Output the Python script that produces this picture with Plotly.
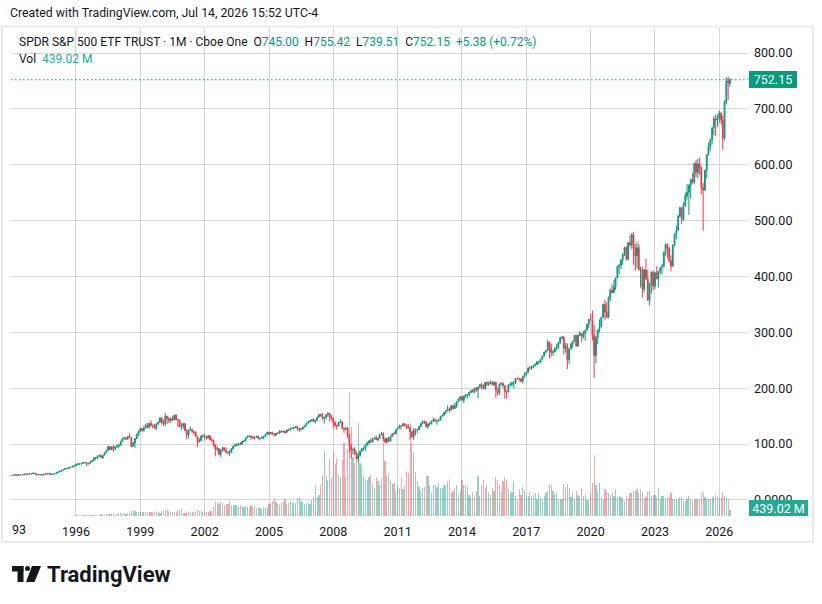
import plotly.graph_objects as go
import pandas as pd

# ---------------- data (SPY monthly) ----------------
closes = [
    43.9, 44.3, 45.2, 44.0, 45.0, 45.1, 44.8, 46.4, 45.9, 46.8, 46.2, 46.7,            # 1993
    48.2, 46.7, 44.6, 45.1, 45.7, 44.4, 45.8, 47.6, 46.3, 47.2, 45.4, 45.9,            # 1994
    47.0, 48.7, 50.1, 51.5, 53.3, 54.5, 56.2, 56.2, 58.4, 58.2, 60.5, 61.6,            # 1995
    63.6, 64.0, 64.6, 65.4, 66.9, 67.1, 64.0, 65.2, 68.7, 70.5, 75.7, 74.1,            # 1996
    78.6, 79.1, 75.7, 80.1, 84.8, 88.5, 95.4, 90.0, 94.7, 91.5, 95.5, 97.0,            # 1997
    98.0, 104.9, 110.2, 111.2, 109.1, 113.4, 112.1, 95.7, 101.7, 109.9, 116.4, 122.9,  # 1998
    128.0, 123.8, 128.6, 133.5, 130.2, 137.3, 132.9, 132.0, 128.3, 136.3, 138.9, 146.9,  # 1999
    139.5, 136.6, 149.9, 145.2, 142.1, 145.5, 143.1, 151.8, 143.6, 142.9, 131.5, 132.0,  # 2000
    136.6, 124.0, 116.0, 125.0, 125.6, 122.4, 121.1, 113.4, 104.1, 106.0, 114.0, 114.8,  # 2001
    113.0, 110.7, 114.7, 107.7, 106.7, 99.0, 91.2, 91.6, 81.5, 88.6, 93.6, 88.0,      # 2002
    85.6, 84.1, 84.8, 91.7, 96.4, 97.5, 99.0, 100.8, 99.6, 105.1, 105.8, 111.2,       # 2003
    113.1, 114.5, 112.6, 110.7, 112.1, 114.1, 110.2, 110.4, 111.5, 113.0, 117.4, 121.2,  # 2004
    118.1, 120.4, 118.1, 115.7, 119.2, 119.1, 123.4, 122.0, 122.9, 120.7, 125.0, 124.8,  # 2005
    128.0, 128.1, 129.5, 131.1, 127.0, 127.0, 127.7, 130.4, 133.6, 137.8, 140.1, 141.8,  # 2006
    143.8, 140.7, 142.1, 148.2, 153.1, 150.3, 145.5, 147.4, 152.7, 154.9, 148.1, 146.8,  # 2007
    137.9, 133.1, 132.3, 138.6, 140.0, 128.0, 126.7, 128.3, 116.6, 96.9, 89.6, 90.3,  # 2008
    82.6, 73.5, 79.8, 87.3, 91.9, 91.9, 98.7, 102.1, 105.7, 103.6, 109.6, 111.5,       # 2009
    107.4, 110.4, 117.0, 118.7, 109.0, 103.1, 110.2, 104.9, 114.1, 118.3, 118.1, 125.8,  # 2010
    128.6, 132.7, 132.6, 136.4, 134.5, 132.1, 129.2, 121.9, 113.1, 125.3, 124.7, 125.8,  # 2011
    131.2, 136.6, 140.9, 139.8, 131.0, 136.2, 137.9, 140.7, 144.1, 141.2, 141.6, 142.6,  # 2012
    149.8, 151.5, 156.9, 159.8, 163.1, 160.6, 168.6, 163.3, 168.2, 175.7, 180.6, 184.8,  # 2013
    178.3, 186.0, 187.2, 188.4, 192.4, 196.0, 193.1, 200.3, 197.2, 201.8, 206.8, 205.9,  # 2014
    199.5, 210.5, 206.8, 208.6, 210.7, 206.3, 210.4, 197.2, 192.0, 207.9, 208.0, 204.4,  # 2015
    194.0, 193.2, 206.0, 206.5, 209.7, 209.9, 217.4, 217.1, 216.8, 212.6, 219.9, 223.9,  # 2016
    227.9, 236.4, 236.3, 238.4, 241.2, 242.3, 247.0, 247.2, 251.9, 257.5, 264.8, 267.4,  # 2017
    282.4, 271.4, 264.1, 264.8, 270.5, 271.8, 281.6, 290.2, 291.4, 271.2, 276.0, 250.7,  # 2018
    270.4, 278.5, 283.4, 294.6, 275.2, 294.2, 298.0, 292.6, 297.7, 303.8, 314.1, 323.1,  # 2019
    322.6, 295.4, 258.5, 291.2, 304.3, 310.0, 327.1, 350.0, 336.3, 327.0, 362.2, 375.6,  # 2020
    371.4, 381.1, 397.3, 418.1, 420.4, 429.8, 439.5, 452.2, 430.8, 460.5, 456.7, 474.9,  # 2021
    449.9, 436.6, 451.6, 412.0, 412.9, 377.3, 412.0, 395.2, 357.2, 386.2, 407.7, 382.4,  # 2022
    406.5, 396.3, 409.4, 415.9, 417.9, 443.3, 457.8, 450.4, 427.5, 418.2, 456.4, 475.3,  # 2023
    482.9, 508.1, 523.1, 502.0, 527.4, 544.2, 550.8, 563.7, 573.8, 568.6, 602.6, 586.1,  # 2024
    601.8, 594.2, 559.4, 554.5, 589.4, 617.9, 632.1, 645.1, 666.2, 682.1, 680.0, 684.0,  # 2025
    692.0, 680.0, 648.0, 712.0, 750.0, 746.77, 752.15,                                  # 2026
]

highs = [
    44.0, 45.0, 45.6, 45.3, 45.5, 45.3, 45.2, 46.5, 46.5, 47.0, 46.9, 47.1,
    48.3, 48.2, 46.9, 45.3, 45.8, 45.9, 45.9, 47.7, 47.7, 47.5, 47.4, 46.5,
    47.3, 48.8, 50.4, 51.6, 53.6, 55.0, 56.4, 56.6, 58.6, 58.8, 60.7, 62.1,
    63.8, 66.5, 65.7, 65.9, 67.8, 67.7, 67.1, 66.6, 69.0, 70.9, 75.8, 76.5,
    79.4, 81.7, 81.6, 80.3, 85.0, 89.9, 95.6, 96.2, 96.1, 98.4, 96.0, 98.7,
    99.4, 105.0, 110.5, 112.2, 112.3, 114.0, 119.0, 112.5, 104.3, 110.7, 119.3, 124.4,
    128.9, 128.2, 131.8, 136.3, 137.7, 137.7, 142.1, 135.6, 136.4, 136.5, 140.7, 147.3,
    147.6, 143.3, 155.5, 150.4, 148.4, 147.5, 150.0, 152.5, 153.0, 144.7, 143.9, 137.5,
    138.3, 137.6, 126.4, 126.6, 131.6, 128.4, 123.5, 122.4, 113.7, 111.0, 116.3, 117.2,
    117.6, 113.2, 116.5, 114.8, 110.6, 107.9, 99.3, 96.2, 93.1, 90.5, 95.5, 94.8,
    93.2, 86.5, 89.6, 92.2, 96.7, 101.1, 100.9, 101.8, 103.8, 105.3, 106.3, 111.3,
    115.6, 115.7, 115.2, 115.0, 113.5, 114.8, 114.7, 111.2, 113.9, 114.5, 118.4, 121.8,
    121.6, 121.3, 122.3, 119.2, 120.0, 121.9, 124.4, 124.3, 124.3, 123.1, 126.3, 127.8,
    129.4, 129.6, 131.1, 132.7, 132.6, 128.4, 128.1, 130.7, 133.8, 138.0, 140.9, 142.5,
    144.9, 146.6, 143.5, 149.4, 153.5, 154.4, 155.5, 149.1, 153.5, 157.5, 155.0, 151.9,
    147.3, 141.2, 135.3, 140.0, 144.3, 140.9, 129.3, 131.0, 130.7, 117.0, 100.5, 92.5,
    94.4, 86.5, 83.2, 88.0, 93.0, 95.6, 98.9, 104.0, 107.0, 110.0, 111.0, 112.8,
    115.1, 111.6, 117.1, 122.1, 121.2, 111.0, 111.5, 113.0, 114.8, 119.2, 122.1, 126.3,
    130.0, 134.7, 133.6, 136.8, 137.2, 134.8, 135.7, 129.3, 123.0, 128.8, 127.8, 127.5,
    132.8, 137.5, 142.2, 142.1, 141.0, 136.3, 139.2, 142.0, 147.0, 146.1, 142.5, 145.6,
    150.2, 152.9, 157.2, 159.9, 169.1, 165.4, 170.0, 170.6, 173.6, 176.3, 181.8, 185.0,
    185.2, 186.9, 189.5, 188.9, 193.0, 196.9, 198.3, 200.6, 201.9, 202.0, 207.4, 209.5,
    207.0, 211.2, 211.9, 211.9, 213.8, 212.3, 212.6, 211.6, 200.8, 208.0, 211.0, 211.0,
    205.0, 196.0, 206.5, 210.9, 211.0, 212.5, 217.5, 219.6, 218.8, 217.5, 221.6, 228.3,
    229.7, 237.0, 240.3, 239.5, 241.5, 245.0, 248.0, 249.3, 252.0, 258.1, 265.2, 268.6,
    286.6, 283.1, 279.9, 268.6, 274.3, 279.5, 283.1, 291.7, 293.9, 292.8, 281.5, 280.4,
    271.0, 281.3, 285.2, 294.8, 295.8, 296.3, 302.2, 298.7, 302.5, 304.0, 315.5, 323.8,
    332.9, 339.1, 313.8, 293.7, 305.3, 323.4, 327.2, 351.3, 358.8, 354.0, 364.2, 378.5,
    385.9, 394.2, 398.0, 418.4, 422.0, 430.6, 441.8, 453.1, 454.0, 461.0, 473.5, 477.6,
    479.98, 458.1, 462.1, 457.8, 418.0, 417.4, 413.0, 431.7, 411.7, 389.5, 409.0, 410.5,
    408.2, 418.3, 409.7, 415.9, 422.6, 444.3, 459.4, 458.0, 453.1, 438.1, 456.9, 477.6,
    491.0, 510.1, 524.6, 523.2, 533.1, 550.3, 565.2, 565.0, 574.7, 586.1, 603.4, 609.1,
    610.8, 613.2, 597.3, 567.2, 592.0, 619.2, 639.8, 646.5, 666.7, 687.4, 690.0, 690.0,
    697.0, 695.0, 688.0, 716.0, 757.0, 757.0, 755.42,
]

lows = [
    43.7, 43.5, 44.1, 43.6, 43.8, 44.4, 44.2, 44.7, 45.4, 45.7, 45.8, 45.9,
    46.6, 46.4, 43.8, 43.6, 44.2, 44.0, 44.2, 45.7, 45.9, 45.7, 44.8, 44.9,
    45.7, 46.9, 48.5, 49.9, 51.2, 53.1, 54.4, 55.5, 56.1, 57.2, 58.1, 59.9,
    59.8, 62.9, 62.5, 62.9, 64.4, 65.6, 60.6, 63.9, 64.5, 67.8, 70.4, 72.0,
    73.6, 77.0, 75.4, 73.4, 79.8, 83.0, 88.0, 89.9, 89.5, 85.5, 88.8, 92.9,
    92.0, 98.0, 104.2, 107.5, 107.5, 107.4, 111.3, 94.0, 94.6, 92.3, 108.9, 114.4,
    121.5, 122.3, 122.6, 127.6, 127.8, 128.0, 131.9, 128.1, 127.0, 124.7, 133.9, 138.6,
    135.0, 132.8, 131.8, 135.6, 137.6, 137.6, 140.9, 143.1, 143.0, 130.5, 130.1, 125.5,
    127.4, 123.0, 108.6, 110.4, 123.5, 119.8, 117.2, 112.9, 94.4, 102.7, 105.5, 111.5,
    108.6, 107.7, 110.1, 106.9, 103.8, 95.1, 77.7, 87.0, 81.0, 76.8, 86.7, 87.0,
    84.4, 81.4, 79.0, 84.2, 90.1, 95.1, 96.0, 96.0, 99.0, 99.5, 103.5, 105.3,
    110.5, 112.2, 107.2, 110.1, 107.6, 111.5, 108.3, 106.3, 109.8, 108.5, 112.9, 116.7,
    116.2, 117.5, 117.0, 113.7, 114.6, 119.0, 118.9, 120.1, 119.8, 117.9, 120.6, 122.9,
    124.4, 126.7, 127.1, 128.5, 124.4, 121.8, 123.0, 125.4, 129.8, 132.6, 136.3, 139.0,
    140.0, 139.0, 136.8, 141.8, 147.9, 148.8, 143.6, 137.0, 144.1, 149.0, 139.9, 142.7,
    128.2, 131.0, 125.5, 131.0, 137.6, 127.6, 120.0, 124.4, 110.5, 84.0, 74.3, 81.2,
    80.0, 73.1, 66.8, 77.3, 86.0, 88.3, 87.8, 96.7, 98.9, 102.0, 103.0, 109.0,
    107.2, 104.6, 109.7, 116.0, 104.4, 103.1, 101.1, 104.5, 104.3, 113.2, 116.3, 118.0,
    125.0, 128.6, 125.3, 131.7, 131.1, 126.6, 127.6, 107.5, 111.0, 107.1, 115.2, 119.2,
    125.6, 131.0, 135.6, 136.0, 129.5, 127.2, 132.4, 135.0, 140.0, 140.5, 134.3, 140.8,
    142.5, 148.8, 150.8, 153.6, 158.7, 156.6, 160.4, 162.9, 163.0, 164.5, 174.8, 177.3,
    177.4, 173.6, 182.8, 181.3, 185.4, 191.0, 192.3, 190.3, 193.5, 181.9, 200.1, 197.9,
    198.6, 196.8, 203.4, 203.9, 206.9, 204.9, 203.5, 182.4, 186.9, 187.6, 204.6, 199.8,
    181.0, 181.1, 192.5, 202.3, 203.3, 199.5, 207.4, 215.7, 212.0, 210.4, 208.4, 219.0,
    222.7, 227.5, 232.5, 232.5, 235.4, 238.6, 241.6, 242.8, 244.9, 251.5, 256.2, 262.0,
    267.0, 252.9, 256.4, 257.8, 264.0, 268.0, 270.6, 279.2, 287.0, 259.9, 263.5, 234.3,
    244.0, 269.5, 272.4, 283.0, 275.0, 274.6, 293.5, 281.7, 288.6, 284.8, 303.5, 307.1,
    320.4, 285.5, 218.3, 243.9, 279.0, 299.5, 309.0, 325.7, 322.6, 326.1, 325.1, 356.2,
    369.4, 370.2, 376.0, 396.7, 404.0, 413.0, 421.0, 436.6, 428.8, 428.8, 453.6, 448.9,
    420.8, 410.6, 415.1, 411.2, 380.5, 362.2, 371.0, 395.0, 357.0, 348.1, 368.8, 374.8,
    377.8, 394.3, 380.7, 403.8, 403.7, 416.8, 437.1, 433.0, 425.0, 409.2, 418.0, 454.3,
    466.4, 482.0, 504.9, 493.9, 499.6, 524.7, 537.5, 510.3, 539.4, 566.1, 565.0, 578.0,
    575.4, 582.4, 546.9, 481.8, 553.0, 575.6, 617.0, 624.5, 636.5, 652.8, 650.9, 668.0,
    675.0, 672.0, 627.0, 643.0, 708.0, 716.0, 739.51,
]

volumes_m = [  # millions of shares
    1, 2, 3, 3, 3, 4, 3, 3, 4, 5, 4, 5,
    6, 7, 10, 8, 7, 8, 6, 7, 9, 10, 12, 14,
    13, 14, 18, 16, 19, 22, 20, 18, 22, 25, 23, 28,
    40, 45, 48, 42, 40, 45, 60, 50, 55, 58, 62, 80,
    90, 95, 120, 130, 110, 115, 130, 150, 140, 210, 170, 160,
    190, 200, 180, 210, 180, 220, 240, 400, 420, 410, 330, 300,
    320, 300, 330, 320, 310, 300, 280, 270, 300, 340, 290, 260,
    350, 380, 450, 420, 400, 330, 320, 300, 320, 450, 420, 500,
    250, 260, 350, 330, 280, 270, 280, 300, 420, 400, 350, 330,
    340, 330, 330, 360, 380, 700, 1150, 1000, 900, 1050, 950, 800,
    900, 900, 1100, 850, 850, 850, 800, 650, 800, 750, 700, 650,
    650, 600, 800, 700, 750, 600, 650, 600, 550, 700, 650, 600,
    900, 1000, 1150, 1250, 1050, 900, 850, 950, 1050, 1250, 900, 950,
    1100, 1000, 1050, 950, 1350, 1400, 1100, 1050, 900, 1000, 950, 900,
    1200, 1400, 2300, 1400, 1600, 2300, 3100, 4900, 3000, 2700, 4300, 2900,
    4700, 3900, 4300, 3100, 2900, 4200, 5500, 3000, 5000, 9200, 6700, 4400,
    4000, 4300, 7000, 4000, 3800, 3000, 2800, 2700, 2900, 3100, 2500, 2100,
    2900, 2600, 2300, 2800, 5500, 4100, 3000, 3200, 2600, 2400, 2500, 1900,
    2300, 2100, 2900, 2000, 2300, 3400, 3200, 7000, 5400, 4800, 3300, 2600,
    2200, 1900, 2100, 2200, 3100, 3000, 2300, 1700, 2300, 2300, 2200, 2400,
    2100, 2100, 2300, 2300, 2600, 2800, 1700, 1900, 2100, 2300, 1600, 1900,
    2700, 2300, 2300, 2200, 1600, 1400, 1800, 1600, 1900, 3000, 1500, 2300,
    2700, 2100, 2300, 1800, 1600, 2100, 1900, 2900, 2700, 2300, 1800, 2600,
    2900, 2700, 2000, 1800, 1800, 2600, 1500, 1300, 2000, 1600, 2200, 1900,
    1600, 1500, 1800, 1500, 1600, 1700, 1300, 1700, 1400, 1200, 1500, 1700,
    1900, 2400, 2300, 1900, 1600, 1800, 1300, 1300, 1300, 2400, 2200, 2400,
    2100, 1400, 1800, 1300, 1900, 1600, 1500, 2100, 1500, 1600, 1200, 1200,
    1700, 2500, 4600, 2300, 1800, 2500, 1400, 1200, 2000, 1800, 1700, 1600,
    1800, 1500, 2000, 1400, 1500, 1400, 1300, 1100, 1500, 1300, 1700, 1700,
    1900, 1900, 2000, 1700, 2000, 1800, 1300, 1400, 1800, 1900, 1500, 1600,
    1600, 1400, 2000, 1300, 1500, 1500, 1300, 1400, 1400, 1700, 1300, 1300,
    1300, 1200, 1400, 1400, 1100, 1100, 1300, 1500, 1300, 1100, 1200, 1300,
    1300, 1300, 1700, 1800, 1400, 1300, 1300, 1300, 1400, 1500, 1600, 1500,
    1400, 1400, 1800, 1500, 1400, 1300, 439.02,
]

first_open = 43.97      # Jan 1993 open
last_open = 745.00      # current (Jul 2026) open, from the legend
year_ticks = list(range(1993, 2027, 3))
price_ticks = [0, 100, 200, 300, 400, 500, 600, 700, 800]

# ---------------- derived series ----------------
dates = pd.date_range("1993-01-01", periods=len(closes), freq="MS")
opens = [first_open] + closes[:-1]
opens[-1] = last_open

UP = "#089981"
DOWN = "#F23645"
VOL_UP = "rgba(8,153,129,0.45)"
VOL_DOWN = "rgba(242,54,69,0.45)"
TXT = "#131722"
GRID = "#d6d6d6"
FONT = "Roboto, Arial, sans-serif"

vol_colors = [VOL_UP if c >= o else VOL_DOWN for o, c in zip(opens, closes)]

# ---------------- geometry helpers (pixels -> paper) ----------------
W, H = 822, 604
L, R, T, B = 11, 748, 28, 516


def xp(x):
    return (x - L) / (R - L)


def yp(y):
    return 1 - (y - T) / (B - T)


fig = go.Figure()

fig.add_trace(go.Bar(
    x=dates, y=volumes_m, marker=dict(color=vol_colors, line=dict(width=0)),
    width=20 * 86400000, yaxis="y", hoverinfo="skip", showlegend=False,
))

fig.add_trace(go.Candlestick(
    x=dates, open=opens, high=highs, low=lows, close=closes,
    increasing=dict(line=dict(color=UP, width=1), fillcolor=UP),
    decreasing=dict(line=dict(color=DOWN, width=1), fillcolor=DOWN),
    whiskerwidth=0, yaxis="y2", hoverinfo="skip", showlegend=False,
))

vol_max = max(volumes_m)
fig.update_layout(
    width=W, height=H,
    margin=dict(l=L, r=W - R, t=T, b=H - B),
    paper_bgcolor="white", plot_bgcolor="white",
    font=dict(family=FONT, size=12, color=TXT),
    showlegend=False,
    bargap=0,
    xaxis=dict(
        type="date",
        range=["1992-12-20", "2027-05-05"],
        tickvals=[f"{y}-01-01" for y in year_ticks],
        ticktext=["" if y == 1993 else str(y) for y in year_ticks],
        showgrid=True, gridcolor=GRID, gridwidth=1,
        ticks="", ticklabelstandoff=6,
        tickfont=dict(size=12.5, color=TXT),
        zeroline=False, showline=False,
        rangeslider=dict(visible=False),
    ),
    yaxis=dict(
        range=[0, vol_max * (B - T) / 122.7],
        visible=False, showgrid=False, zeroline=False,
    ),
    yaxis2=dict(
        overlaying="y", side="right",
        range=[-28.8, 844.8],
        tickvals=price_ticks,
        ticktext=["0.0000" if v == 0 else f"{v:.2f}" for v in price_ticks],
        showgrid=True, gridcolor=GRID, gridwidth=1,
        ticks="", ticklabelstandoff=5,
        tickfont=dict(size=12.5, color=TXT),
        zeroline=False, showline=False,
    ),
)

last_close = closes[-1]
prev_close = closes[-2]
chg = last_close - prev_close
chg_pct = chg / prev_close * 100
last_vol = volumes_m[-1]


def teal(s):
    return f"<span style='color:{UP}'>{s}</span>"


line1 = ("SPDR S&P 500 ETF TRUST · 1M · Cboe One&nbsp;&nbsp;"
         f"O{teal(f'{last_open:.2f}')}&nbsp;&nbsp;"
         f"H{teal(f'{highs[-1]:.2f}')}&nbsp;&nbsp;"
         f"L{teal(f'{lows[-1]:.2f}')}&nbsp;&nbsp;"
         f"C{teal(f'{last_close:.2f}')}&nbsp;&nbsp;"
         + teal(f"{chg:+.2f} ({chg_pct:+.2f}%)"))
line2 = "Vol&nbsp;&nbsp;" + f"<span style='color:#22ab94'>{last_vol:.2f} M</span>"

ann = [
    dict(text="Created with TradingView.com, Jul 14, 2026 15:52 UTC-4",
         x=xp(8), y=yp(13), xanchor="left", yanchor="middle",
         font=dict(size=12.3, color=TXT)),
    dict(text=line1, x=xp(17), y=yp(42), xanchor="left", yanchor="middle",
         font=dict(size=12, color=TXT)),
    dict(text=line2, x=xp(17), y=yp(59), xanchor="left", yanchor="middle",
         font=dict(size=12, color=TXT)),
    dict(text="93", x=xp(10), y=yp(529), xanchor="left", yanchor="middle",
         font=dict(size=12.5, color=TXT)),
    dict(text=f"{last_close:.2f}", x=xp(749), xref="paper", y=last_close, yref="y2",
         xanchor="left", yanchor="middle", bgcolor=UP, borderpad=2, borderwidth=0,
         width=44, height=13, align="center",
         font=dict(size=12.5, color="white")),
    dict(text=f"{last_vol:.2f} M", x=xp(749), y=yp(508), xanchor="left", yanchor="middle",
         bgcolor="#22ab94", borderpad=2, borderwidth=0, width=55, height=12, align="center",
         font=dict(size=12.5, color="white")),
    dict(text="<b>TradingView</b>", x=xp(45), y=yp(574), xanchor="left", yanchor="middle",
         font=dict(size=22, color=TXT)),
]
for a in ann:
    a.setdefault("xref", "paper")
    a.setdefault("yref", "paper")
    a["showarrow"] = False
fig.update_layout(annotations=ann)

shapes = [
    # outer frame
    dict(type="rect", xref="paper", yref="paper", x0=xp(2), x1=xp(813), y0=yp(542), y1=yp(26.5),
         line=dict(color="#ebebeb", width=2), fillcolor="rgba(0,0,0,0)", layer="below"),
    # last price line
    dict(type="line", xref="paper", yref="y2", x0=0, x1=1, y0=last_close, y1=last_close,
         line=dict(color=UP, width=1.2, dash="1.5px,2.5px"), layer="above"),
    # TradingView logo mark
    dict(type="rect", xref="paper", yref="paper", x0=xp(12), x1=xp(23.5), y0=yp(571.5), y1=yp(566),
         line=dict(width=0), fillcolor=TXT),
    dict(type="rect", xref="paper", yref="paper", x0=xp(17.5), x1=xp(23.5), y0=yp(582), y1=yp(566),
         line=dict(width=0), fillcolor=TXT),
    dict(type="circle", xref="paper", yref="paper", x0=xp(25), x1=xp(30), y0=yp(571), y1=yp(566),
         line=dict(width=0), fillcolor=TXT),
    dict(type="path", xref="paper", yref="paper",
         path=(f"M {xp(32)},{yp(566)} L {xp(41)},{yp(566)} "
               f"L {xp(34.5)},{yp(582)} L {xp(26)},{yp(582)} Z"),
         line=dict(width=0), fillcolor=TXT),
]
fig.update_layout(shapes=shapes)

fig.write_html("out.html", config={"displayModeBar": False})
